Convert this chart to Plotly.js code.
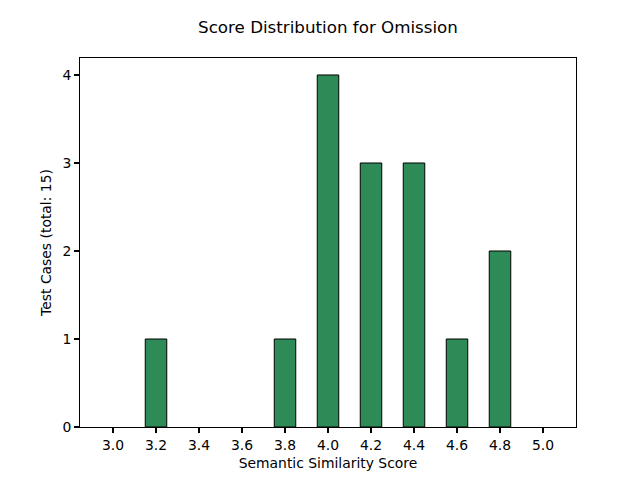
<!DOCTYPE html>
<html>
<head>
<meta charset="utf-8">
<script src="https://cdn.plot.ly/plotly-3.0.1.min.js"></script>
<style>html,body{margin:0;padding:0;background:#fff;}</style>
</head>
<body>
<div id="chart" style="width:640px;height:480px;"></div>
<script>
const scores = [3.2, 3.8, 4.0, 4.2, 4.4, 4.6, 4.8];
const counts = [1, 1, 4, 3, 3, 1, 2];
const xTicks = [3.0, 3.2, 3.4, 3.6, 3.8, 4.0, 4.2, 4.4, 4.6, 4.8, 5.0];
const yTicks = [0, 1, 2, 3, 4];
const titleText = "Score Distribution for Omission";
const xLabel = "Semantic Similarity Score";
const yLabel = "Test Cases (total: 15)";

const font = {family: "DejaVu Sans, sans-serif", size: 13.9, color: "#000"};

Plotly.newPlot("chart", [{
  type: "bar",
  x: scores,
  y: counts,
  width: 0.1,
  marker: {color: "#2E8B57", line: {color: "#000", width: 1}},
  hoverinfo: "skip"
}], {
  width: 640, height: 480,
  margin: {l: 80, r: 64, t: 58, b: 53},
  paper_bgcolor: "#fff", plot_bgcolor: "#fff",
  font: font,
  showlegend: false,
  title: {text: titleText, font: {family: font.family, size: 16.7, color: "#000"}, xref: "paper", x: 0.5, xanchor: "center", y: 1 - 27/480, yanchor: "middle"},
  xaxis: {
    range: [2.8465, 5.1535],
    tickvals: xTicks,
    ticktext: xTicks.map(v => v.toFixed(1)),
    ticks: "outside", ticklen: 4.9, tickwidth: 1.1, tickcolor: "#000",
    showgrid: false, zeroline: false,
    showline: true, linecolor: "#000", linewidth: 1.1, mirror: true,
    title: {text: xLabel, font: font, standoff: 6},
    tickfont: font
  },
  yaxis: {
    range: [0, 4.193],
    tickvals: yTicks,
    ticktext: yTicks.map(String),
    ticks: "outside", ticklen: 4.9, tickwidth: 1.1, tickcolor: "#000",
    showgrid: false, zeroline: false,
    showline: true, linecolor: "#000", linewidth: 1.1, mirror: true,
    title: {text: yLabel, font: font, standoff: 7},
    tickfont: font
  }
}, {staticPlot: true, displayModeBar: false});
</script>
</body>
</html>
